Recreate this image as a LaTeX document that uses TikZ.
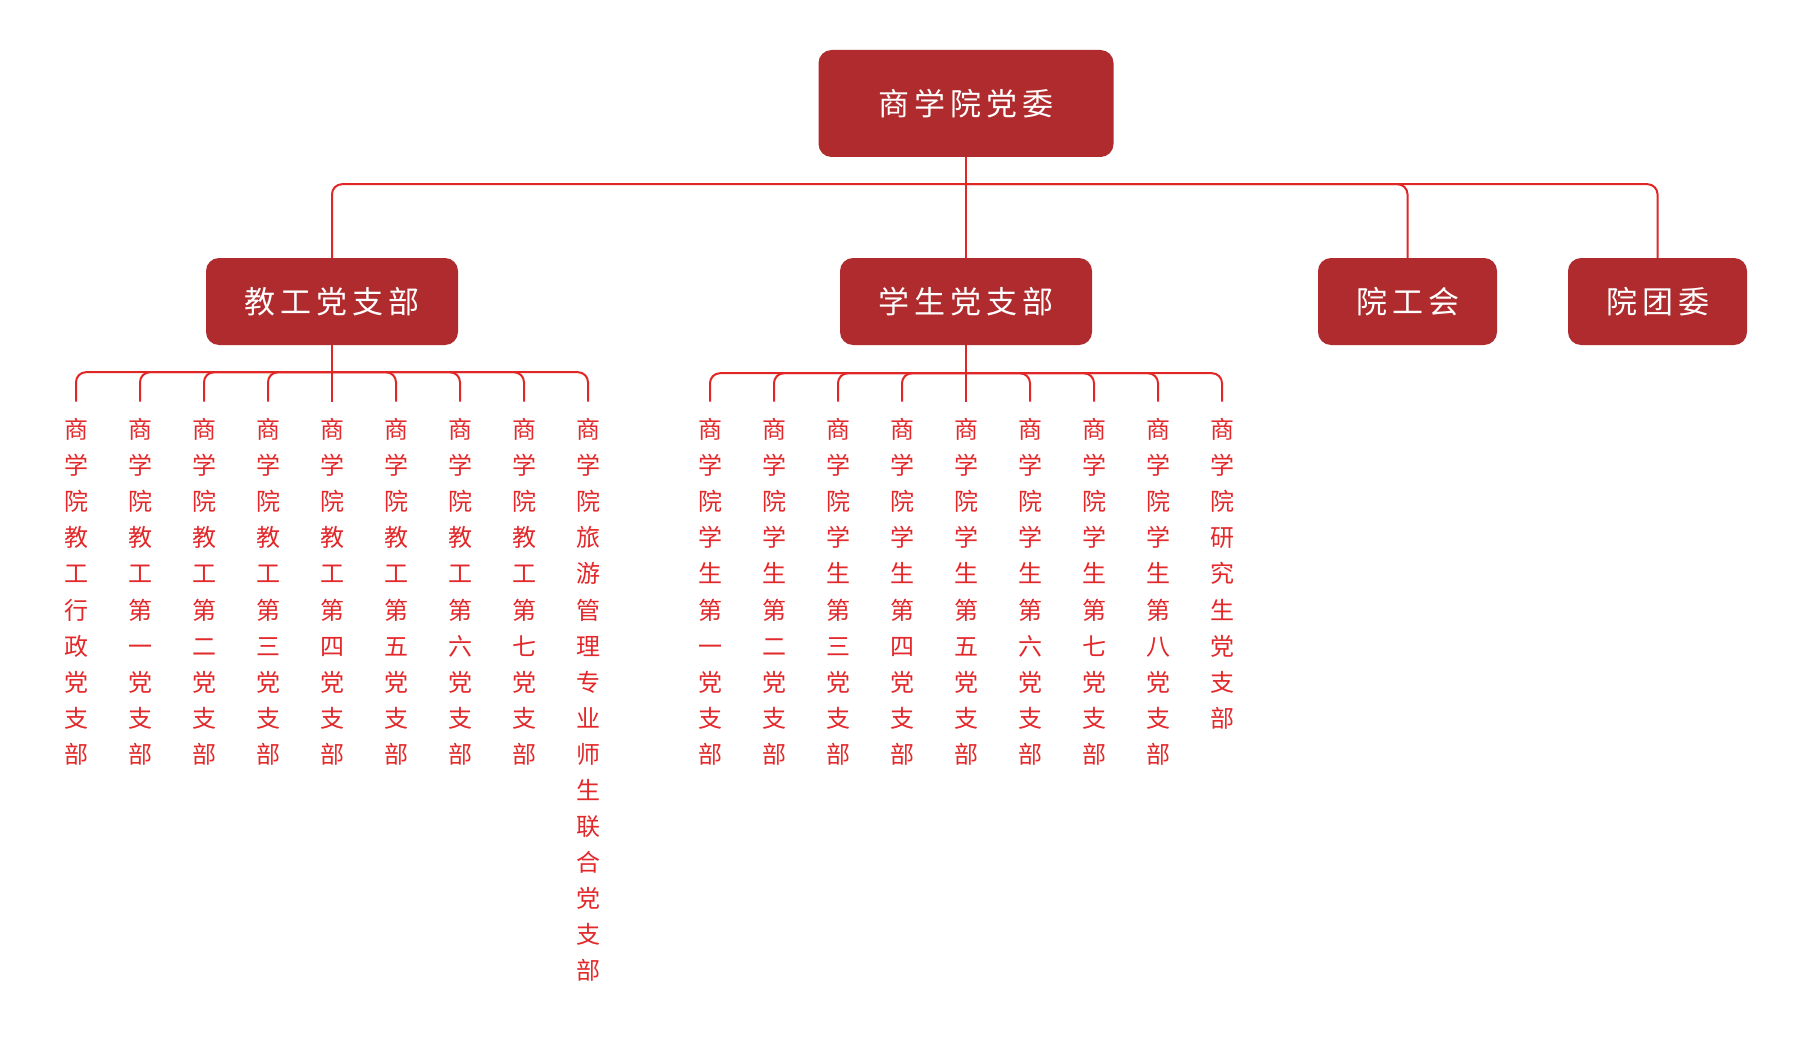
\documentclass[tikz,border=0pt]{standalone}
\usepackage{fontspec}
\newfontfamily\cjk{Noto Sans CJK SC}
\definecolor{boxred}{RGB}{176,43,46}
\definecolor{linered}{RGB}{225,38,38}
\definecolor{txtred}{RGB}{226,40,42}
\tikzset{
 box/.style={rounded corners=13pt, fill=boxred, text=white, inner sep=0pt, font=\cjk\fontsize{31}{36}\selectfont},
 conn/.style={draw=linered, line width=2pt, rounded corners=10pt},
 leaf/.style={text=txtred, inner sep=0pt, outer ysep=17pt, anchor=north, align=center, font=\cjk\fontsize{24}{36.05}\selectfont},
}
\begin{document}
\begin{tikzpicture}[x=1pt,y=-1pt]
\useasboundingbox (0,0) rectangle (1798,1051);
% boxes
\node[box, minimum width=295pt, minimum height=107pt] (top) at (966,103.5) {商\hspace{5pt}学\hspace{5pt}院\hspace{5pt}党\hspace{5pt}委};
\node[box, minimum width=252pt, minimum height=87pt] (jg) at (332,301.5) {教\hspace{5pt}工\hspace{5pt}党\hspace{5pt}支\hspace{5pt}部};
\node[box, minimum width=252pt, minimum height=87pt] (xs) at (966,301.5) {学\hspace{5pt}生\hspace{5pt}党\hspace{5pt}支\hspace{5pt}部};
\node[box, minimum width=179pt, minimum height=87pt] (ygh) at (1407.5,301.5) {院\hspace{5pt}工\hspace{5pt}会};
\node[box, minimum width=179pt, minimum height=87pt] (ytw) at (1657.5,301.5) {院\hspace{5pt}团\hspace{5pt}委};
% top connectors
\coordinate (bar1) at ([yshift=-27pt]top.south);
\draw[conn] (top.south) -- (xs.north);
\draw[conn] (bar1) -| (jg.north);
\draw[conn] (bar1) -| (ygh.north);
\draw[conn] (bar1) -| (ytw.north);
% leaves left
\node[leaf] (a1) at (76,401.5) {商\\学\\院\\教\\工\\行\\政\\党\\支\\部};
\node[leaf] (a2) at (140,401.5) {商\\学\\院\\教\\工\\第\\一\\党\\支\\部};
\node[leaf] (a3) at (204,401.5) {商\\学\\院\\教\\工\\第\\二\\党\\支\\部};
\node[leaf] (a4) at (268,401.5) {商\\学\\院\\教\\工\\第\\三\\党\\支\\部};
\node[leaf] (a5) at (332,401.5) {商\\学\\院\\教\\工\\第\\四\\党\\支\\部};
\node[leaf] (a6) at (396,401.5) {商\\学\\院\\教\\工\\第\\五\\党\\支\\部};
\node[leaf] (a7) at (460,401.5) {商\\学\\院\\教\\工\\第\\六\\党\\支\\部};
\node[leaf] (a8) at (524,401.5) {商\\学\\院\\教\\工\\第\\七\\党\\支\\部};
\node[leaf] (a9) at (588,401.5) {商\\学\\院\\旅\\游\\管\\理\\专\\业\\师\\生\\联\\合\\党\\支\\部};
% leaves right
\node[leaf] (b1) at (710,401.5) {商\\学\\院\\学\\生\\第\\一\\党\\支\\部};
\node[leaf] (b2) at (774,401.5) {商\\学\\院\\学\\生\\第\\二\\党\\支\\部};
\node[leaf] (b3) at (838,401.5) {商\\学\\院\\学\\生\\第\\三\\党\\支\\部};
\node[leaf] (b4) at (902,401.5) {商\\学\\院\\学\\生\\第\\四\\党\\支\\部};
\node[leaf] (b5) at (966,401.5) {商\\学\\院\\学\\生\\第\\五\\党\\支\\部};
\node[leaf] (b6) at (1030,401.5) {商\\学\\院\\学\\生\\第\\六\\党\\支\\部};
\node[leaf] (b7) at (1094,401.5) {商\\学\\院\\学\\生\\第\\七\\党\\支\\部};
\node[leaf] (b8) at (1158,401.5) {商\\学\\院\\学\\生\\第\\八\\党\\支\\部};
\node[leaf] (b9) at (1222,401.5) {商\\学\\院\\研\\究\\生\\党\\支\\部};
% leaf connectors
\coordinate (bar2) at ([yshift=-27pt]jg.south);
\coordinate (bar3) at ([yshift=-28pt]xs.south);
\draw[conn] (jg.south) -- (a5.north);
\foreach \n in {a1,a2,a3,a4,a6,a7,a8,a9} \draw[conn] (bar2) -| (\n.north);
\draw[conn] (xs.south) -- (b5.north);
\foreach \n in {b1,b2,b3,b4,b6,b7,b8,b9} \draw[conn] (bar3) -| (\n.north);
\end{tikzpicture}
\end{document}
